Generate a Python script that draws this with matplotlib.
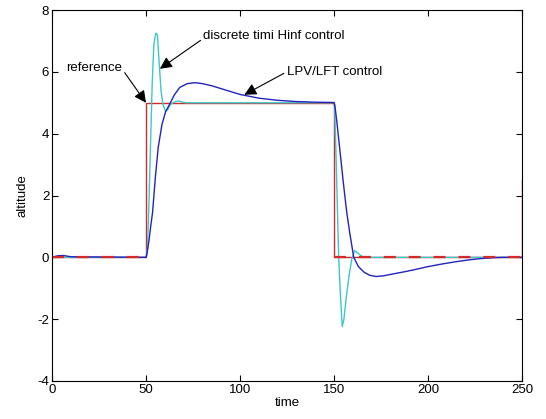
import numpy as np
import matplotlib
matplotlib.use("Agg")
import matplotlib.pyplot as plt

# ---------------------------------------------------
# Data
# ---------------------------------------------------

# reference altitude (step command)
ref_t = [0, 50, 50, 150, 150, 250, 250]
ref_y = [0, 0, 5, 5, 0, 0, 2.5]

# discrete time Hinf control response
hinf_t = [0, 50, 50.8, 51.6, 52.4, 53.3, 54.2, 55.2, 56.1, 57.0, 58.0, 59.0,
          60.4, 61.8, 63, 65, 67, 69, 71, 150, 150.4, 151.4, 152.5, 153.5,
          154.4, 155.3, 156.5, 158, 159.5, 161, 163, 165, 167, 250]
hinf_y = [0, 0, 0.3, 1.8, 3.6, 5.6, 6.9, 7.25, 7.2, 6.3, 5.4, 4.95,
          4.72, 4.8, 4.95, 5.02, 5.06, 5.03, 5.0, 5.0, 4.8, 2.6, 0.0, -1.3,
          -2.24, -2.0, -1.3, -0.6, -0.05, 0.22, 0.12, 0.03, 0.0, 0.0]

# LPV/LFT control response
lpv_t = [0, 3, 6, 10, 50, 50.5, 51.5, 52.5, 53.5, 55, 56.5, 58.5, 60.5, 63,
         65, 68, 72, 76, 80, 85, 92, 100, 110, 120, 130, 140, 150,
         150.5, 151.5, 153, 155, 156.8, 158.5, 160.5, 163, 166, 169, 172.4,
         176, 182, 188, 192, 200, 207, 215, 222, 228, 235, 240, 250]
lpv_y = [0, 0.05, 0.06, 0.02, 0, 0.1, 0.5, 1.0, 1.45, 2.6, 3.55, 4.3, 4.72, 5.0,
         5.25, 5.5, 5.62, 5.65, 5.62, 5.55, 5.42, 5.27, 5.15, 5.08, 5.04, 5.02, 5.01,
         4.9, 4.4, 3.55, 2.4, 1.45, 0.75, 0.0, -0.3, -0.48, -0.58, -0.62,
         -0.6, -0.53, -0.46, -0.41, -0.3, -0.22, -0.14, -0.08, -0.04, -0.01, 0, 0]

X_TICKS = [0, 50, 100, 150, 200, 250]
Y_TICKS = [-4, -2, 0, 2, 4, 6, 8]

RED = "#d42a2a"
CYAN = "#3cc8c8"
BLUE = "#2323c0"

plt.rcParams["font.family"] = ["Liberation Sans", "DejaVu Sans"]
plt.rcParams["font.size"] = 9.5
plt.rcParams["axes.unicode_minus"] = False

fig = plt.figure(figsize=(5.46, 4.19), dpi=100)
ax = fig.add_axes([0.0952, 0.0907, 0.8608, 0.8853])

ax.plot(ref_t, ref_y, color=RED, linewidth=1.0)
ax.plot(hinf_t, hinf_y, color=CYAN, linewidth=1.0)
ax.plot(lpv_t, lpv_y, color=BLUE, linewidth=1.0)

# dashed reference overlay on the zero levels
ref_arr = np.array(ref_y, dtype=float)
ref_zero = np.where(ref_arr == 0, ref_arr, np.nan)
ax.plot(ref_t, ref_zero, color=RED, linewidth=1.6, linestyle=(0, (5.4, 5.8)))

ax.set_xlim(0, 250)
ax.set_ylim(-4, 8)
ax.set_xticks(X_TICKS)
ax.set_yticks(Y_TICKS)
ax.tick_params(direction="in", top=True, right=True, length=4, width=0.8, pad=2)
for s in ax.spines.values():
    s.set_linewidth(0.8)

ax.set_xlabel("time", labelpad=1)
ax.set_ylabel("altitude", labelpad=6)

arrow = dict(arrowstyle="-|>", color="k", lw=0.8, mutation_scale=18,
             shrinkA=0, shrinkB=0)
ax.annotate("reference", xy=(50, 5.0), xytext=(7.4, 6.13),
            va="center", ha="left", arrowprops=dict(arrow, relpos=(1.05, 0.1)))
ax.annotate("discrete timi Hinf control", xy=(57.4, 6.1), xytext=(80.5, 7.16),
            va="center", ha="left", arrowprops=dict(arrow, relpos=(0, 0.3)))
ax.annotate("LPV/LFT control", xy=(102.3, 5.26), xytext=(124.8, 6.0),
            va="center", ha="left", arrowprops=dict(arrow, relpos=(0, 0.5)))

fig.savefig("out.png", dpi=100, facecolor="white")
